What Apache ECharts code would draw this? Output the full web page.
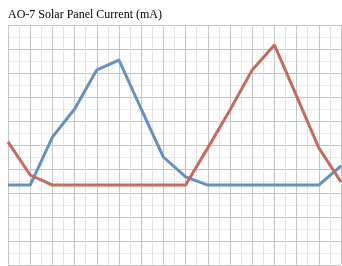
<!DOCTYPE html>
<html><head><meta charset="utf-8">
<script src="https://cdn.jsdelivr.net/npm/echarts@6/dist/echarts.min.js"></script>
<style>html,body{margin:0;padding:0;background:#fff}#c{width:342px;height:266px}</style>
</head><body><div id="c"></div>
<script>
var titleText = "AO-7 Solar Panel Current (mA)";
var samples = [0,1,2,3,4,5,6,7,8,9,10,11,12,13,14,15];
var blueValues = [3.33,3.33,5.33,6.5,8.13,8.54,6.5,4.5,3.67,3.33,3.33,3.33,3.33,3.33,3.33,4.13];
var redValues  = [5.13,3.75,3.33,3.33,3.33,3.33,3.33,3.33,3.33,4.88,6.46,8.13,9.17,7.04,4.88,3.46];

function pairs(vals){ return samples.map(function(s,i){ return [s, vals[i]]; }); }

var chart = echarts.init(document.getElementById('c'), null, {renderer:'canvas'});
chart.setOption({
  animation:false,
  backgroundColor:'#fff',
  title:{text:titleText,left:3,top:4,textStyle:{fontFamily:'Liberation Serif',fontWeight:'normal',fontSize:12,color:'#000'}},
  grid:{left:8,right:1,top:25,bottom:1,containLabel:false},
  xAxis:{type:'value',min:0,max:15,interval:1,
    axisLine:{show:false},axisTick:{show:false},axisLabel:{show:false},
    splitLine:{show:true,lineStyle:{color:'#c4c4c4',width:1}},
    minorTick:{show:false,splitNumber:2},
    minorSplitLine:{show:true,lineStyle:{color:'#e2e2e2',width:1}}},
  yAxis:{type:'value',min:0,max:10,interval:1,
    axisLine:{show:false},axisTick:{show:false},axisLabel:{show:false},
    splitLine:{show:true,lineStyle:{color:'#c4c4c4',width:1}},
    minorTick:{show:false,splitNumber:2},
    minorSplitLine:{show:true,lineStyle:{color:'#ececec',width:1}}},
  series:[
    {type:'line',data:pairs(blueValues),symbol:'none',lineStyle:{color:'#6592bd',width:3},
      itemStyle:{color:'#6592bd'}},
    {type:'line',data:pairs(redValues),symbol:'none',lineStyle:{color:'#c46a5e',width:3},
      itemStyle:{color:'#c46a5e'}}
  ]
});
</script></body></html>
